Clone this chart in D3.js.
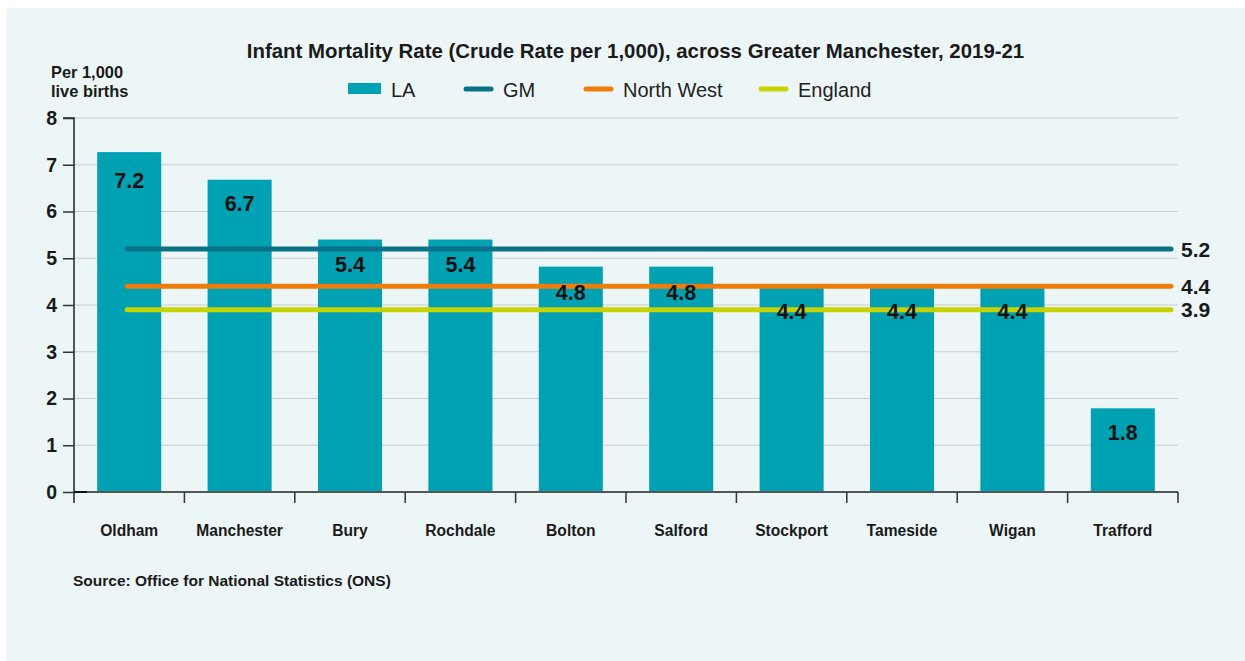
<!DOCTYPE html>
<html>
<head>
<meta charset="utf-8">
<script src="https://cdn.jsdelivr.net/npm/d3@7/dist/d3.min.js"></script>
<style>
  html, body { margin: 0; padding: 0; background: #ffffff; }
  svg { display: block; }
  text { font-family: "Liberation Sans", Arial, Helvetica, sans-serif; }
</style>
</head>
<body>
<svg id="chart" width="1245" height="661"></svg>
<script>
// ---- Data ----
const categories = ["Oldham", "Manchester", "Bury", "Rochdale", "Bolton", "Salford", "Stockport", "Tameside", "Wigan", "Trafford"];
const laValues = [7.27, 6.68, 5.4, 5.4, 4.82, 4.82, 4.38, 4.38, 4.38, 1.79];
const laLabels = ["7.2", "6.7", "5.4", "5.4", "4.8", "4.8", "4.4", "4.4", "4.4", "1.8"];
const refNames = ["GM", "North West", "England"];
const refValues = [5.2, 4.4, 3.9];
const yTicks = [0, 1, 2, 3, 4, 5, 6, 7, 8];
const title = "Infant Mortality Rate (Crude Rate per 1,000), across Greater Manchester, 2019-21";
const source = "Source: Office for National Statistics (ONS)";

(function () {
// ---- Styles ----
const barColor = "#00a1b2";
const refColors = ["#0a7188", "#ef7d0b", "#c6d300"];
const textColor = "#1a1a1a";

const svg = d3.select("#chart");
svg.append("rect").attr("x", 6).attr("y", 8).attr("width", 1239).attr("height", 653).attr("fill", "#edf6f7");

const pLeft = 74, pRight = 1178, pTop = 118, pBottom = 492;
const x = d3.scaleBand().domain(categories).range([pLeft, pRight]).paddingInner(0.42).paddingOuter(0.21);
const y = d3.scaleLinear().domain([0, 8]).range([pBottom, pTop]);

// gridlines
svg.append("g").selectAll("line").data(yTicks.filter(d => d > 0)).join("line")
  .attr("x1", pLeft).attr("x2", pRight)
  .attr("y1", d => y(d)).attr("y2", d => y(d))
  .attr("stroke", "#c8cbcc").attr("stroke-width", 1.2);

// bars
svg.append("g").selectAll("rect").data(categories).join("rect")
  .attr("x", d => x(d))
  .attr("y", (d, i) => y(laValues[i]))
  .attr("width", x.bandwidth())
  .attr("height", (d, i) => y(0) - y(laValues[i]))
  .attr("fill", barColor);

// y axis
const yAxis = d3.axisLeft(y).tickValues(yTicks).tickSize(11).tickPadding(6).tickFormat(d3.format("d"));
const gy = svg.append("g").attr("transform", `translate(${pLeft},0)`).call(yAxis);
gy.select(".domain").attr("stroke", "#222").attr("stroke-width", 1.5).attr("d", `M-11,${pTop}H0V${pBottom + 11}`);
gy.selectAll(".tick line").attr("stroke", "#333").attr("stroke-width", 1.5);
gy.selectAll(".tick text").attr("fill", textColor).attr("font-size", 19.5).attr("font-weight", "bold")
  .attr("font-family", "Liberation Sans, Arial, sans-serif");

// x axis line and ticks at band boundaries
const boundaries = categories.map(c => x(c) - x.step() * x.paddingInner() / 2);
boundaries[0] = pLeft;
boundaries.push(pRight);
svg.append("line").attr("x1", pLeft).attr("x2", pRight).attr("y1", pBottom).attr("y2", pBottom)
  .attr("stroke", "#555").attr("stroke-width", 1.8);
svg.append("line").attr("x1", pLeft).attr("x2", pLeft + 13).attr("y1", pBottom).attr("y2", pBottom)
  .attr("stroke", "#111").attr("stroke-width", 2);
svg.append("g").selectAll("line").data(boundaries.slice(1)).join("line")
  .attr("x1", d => d).attr("x2", d => d).attr("y1", pBottom).attr("y2", pBottom + 11)
  .attr("stroke", "#333").attr("stroke-width", 1.5);

const xAxis = d3.axisBottom(x).tickSize(0).tickPadding(0);
const gx = svg.append("g").attr("transform", `translate(0,${pBottom + 33})`).call(xAxis);
gx.select(".domain").remove();
gx.selectAll(".tick text").attr("fill", textColor).attr("font-size", 15.6).attr("font-weight", "bold")
  .attr("font-family", "Liberation Sans, Arial, sans-serif");

// reference lines
const lineStart = x(categories[0]) + x.bandwidth() / 2 - 2;
const lineEnd = pRight - 7;
refValues.forEach((v, i) => {
  svg.append("line").attr("x1", lineStart).attr("x2", lineEnd).attr("y1", y(v)).attr("y2", y(v))
    .attr("stroke", refColors[i]).attr("stroke-width", 5).attr("stroke-linecap", "round");
  svg.append("text").attr("x", 1181).attr("y", y(v)).attr("dy", "0.37em")
    .attr("font-size", 21).attr("font-weight", "bold").attr("fill", textColor).text(d3.format(".1f")(v));
});

// bar value labels
svg.append("g").selectAll("text").data(categories).join("text")
  .attr("x", d => x(d) + x.bandwidth() / 2)
  .attr("y", (d, i) => y(+laLabels[i]) + 32.5)
  .attr("text-anchor", "middle").attr("font-size", 21.5).attr("font-weight", "bold").attr("fill", "#111")
  .text((d, i) => laLabels[i]);

// title
svg.append("text").attr("x", 635.5).attr("y", 58).attr("text-anchor", "middle")
  .attr("font-size", 20.4).attr("font-weight", "bold").attr("fill", textColor).text(title);

// y label
svg.append("text").attr("x", 51).attr("y", 78).attr("font-size", 16.4).attr("font-weight", "bold").attr("fill", textColor).text("Per 1,000");
svg.append("text").attr("x", 51).attr("y", 97).attr("font-size", 16.4).attr("font-weight", "bold").attr("fill", textColor).text("live births");

// legend
const legendY = 89;
const legendItems = [{name: "LA", type: "rect", color: barColor, x: 348}]
  .concat(refNames.map((n, i) => ({name: n, type: "line", color: refColors[i], x: [464, 584, 759][i]})));
const lg = svg.append("g");
legendItems.forEach(it => {
  if (it.type === "rect") {
    lg.append("rect").attr("x", it.x).attr("y", legendY - 6).attr("width", 33).attr("height", 11).attr("fill", it.color);
    lg.append("text").attr("x", it.x + 43).attr("y", legendY + 1).attr("dy", "0.36em").attr("font-size", 20).attr("fill", "#222").text(it.name);
  } else {
    lg.append("line").attr("x1", it.x + 2).attr("x2", it.x + 27).attr("y1", legendY).attr("y2", legendY)
      .attr("stroke", it.color).attr("stroke-width", 5).attr("stroke-linecap", "round");
    lg.append("text").attr("x", it.x + 39).attr("y", legendY + 1).attr("dy", "0.36em").attr("font-size", 20).attr("fill", "#222").text(it.name);
  }
});

// source
svg.append("text").attr("x", 73).attr("y", 586).attr("font-size", 15.5).attr("font-weight", "bold").attr("fill", textColor).text(source);
})();
</script>
</body>
</html>
